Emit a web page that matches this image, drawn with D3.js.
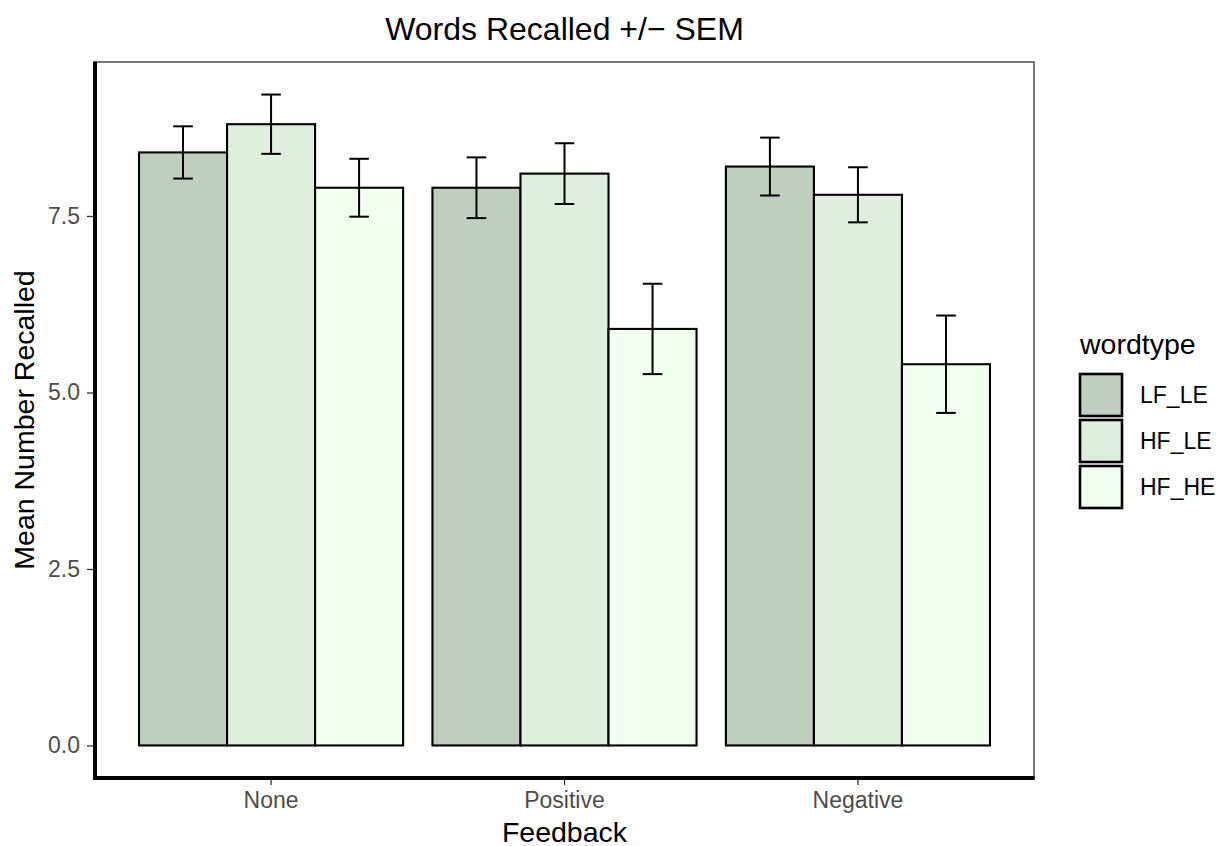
<!DOCTYPE html>
<html>
<head>
<meta charset="utf-8">
<script src="https://cdn.jsdelivr.net/npm/d3@7"></script>
<style>
  body { margin: 0; background: #fff; }
  svg { display: block; font-family: "Liberation Sans", Arial, sans-serif; }
</style>
</head>
<body>
<svg width="1223" height="846"></svg>
<script>
var feedback = ["None", "Positive", "Negative"];
var wordtypes = ["LF_LE", "HF_LE", "HF_HE"];

// mean words recalled, one array per word type (in feedback order)
var meanLF_LE = [8.4, 7.9, 8.2];
var meanHF_LE = [8.8, 8.1, 7.8];
var meanHF_HE = [7.9, 5.9, 5.4];

// standard error of the mean
var semLF_LE = [0.37, 0.43, 0.41];
var semHF_LE = [0.42, 0.43, 0.39];
var semHF_HE = [0.41, 0.64, 0.69];

var fills = ["#C1CDC1", "#E0EEE0", "#F0FFF0"];
var yTicks = [0, 2.5, 5, 7.5];

function chart(){

  var means = [meanLF_LE, meanHF_LE, meanHF_HE],
      sems = [semLF_LE, semHF_LE, semHF_HE];

  var data = [];
  feedback.forEach(function(f, i){
    wordtypes.forEach(function(w, j){
      data.push({feedback: f, wordtype: w, mean: means[j][i], sem: sems[j][i]});
    });
  });

  var pLeft = 95, pRight = 1034, pTop = 62, pBottom = 778;

  var svg = d3.select("svg");

  var x = d3.scaleBand()
      .domain(feedback)
      .range([pLeft, pRight])
      .paddingInner(0.1)
      .paddingOuter(0.15);

  var x1 = d3.scaleBand()
      .domain(wordtypes)
      .range([0, x.bandwidth()]);

  var ymax = d3.max(data, function(d){ return d.mean + d.sem; });
  var pad = ymax * 0.05;
  var y = d3.scaleLinear()
      .domain([-pad, ymax + pad])
      .range([pBottom, pTop]);

  var color = d3.scaleOrdinal().domain(wordtypes).range(fills);

  // panel border (thin)
  svg.append("rect")
      .attr("x", pLeft).attr("y", pTop)
      .attr("width", pRight - pLeft).attr("height", pBottom - pTop)
      .attr("fill", "none")
      .attr("stroke", "#333333")
      .attr("stroke-width", 1.3);

  // bars
  svg.append("g")
    .selectAll("rect")
    .data(data)
    .enter().append("rect")
      .attr("x", function(d){ return x(d.feedback) + x1(d.wordtype); })
      .attr("y", function(d){ return y(d.mean); })
      .attr("width", x1.bandwidth())
      .attr("height", function(d){ return y(0) - y(d.mean); })
      .attr("fill", function(d){ return color(d.wordtype); })
      .attr("stroke", "#000")
      .attr("stroke-width", 2.1);

  // error bars
  var capW = 0.2 / 3 * x.step();
  var eb = svg.append("g")
      .attr("stroke", "#000")
      .attr("stroke-width", 2)
    .selectAll("g")
    .data(data)
    .enter().append("g")
      .attr("transform", function(d){
        return "translate(" + (x(d.feedback) + x1(d.wordtype) + x1.bandwidth() / 2) + ",0)";
      });

  eb.append("line")
      .attr("x1", 0).attr("x2", 0)
      .attr("y1", function(d){ return y(d.mean + d.sem); })
      .attr("y2", function(d){ return y(d.mean - d.sem); });
  eb.append("line")
      .attr("x1", -capW / 2).attr("x2", capW / 2)
      .attr("y1", function(d){ return y(d.mean + d.sem); })
      .attr("y2", function(d){ return y(d.mean + d.sem); });
  eb.append("line")
      .attr("x1", -capW / 2).attr("x2", capW / 2)
      .attr("y1", function(d){ return y(d.mean - d.sem); })
      .attr("y2", function(d){ return y(d.mean - d.sem); });

  // y axis
  var gy = svg.append("g")
      .attr("transform", "translate(" + pLeft + ",0)")
      .call(d3.axisLeft(y).tickValues(yTicks).tickFormat(d3.format(".1f")).tickSize(8).tickPadding(7));
  gy.select(".domain").remove();
  gy.selectAll(".tick line").attr("stroke", "#333333").attr("stroke-width", 1.3);
  gy.selectAll(".tick text")
      .attr("fill", "#4D4D4D")
      .style("font-size", "23px")
      .style("font-family", "Liberation Sans, Arial, sans-serif");

  // x axis
  var gx = svg.append("g")
      .attr("transform", "translate(0," + pBottom + ")")
      .call(d3.axisBottom(x).tickSize(7).tickPadding(7));
  gx.select(".domain").remove();
  gx.selectAll(".tick line").attr("stroke", "#333333").attr("stroke-width", 1.3);
  gx.selectAll(".tick text")
      .attr("fill", "#4D4D4D")
      .style("font-size", "23px")
      .style("font-family", "Liberation Sans, Arial, sans-serif");

  // thick axis lines
  svg.append("line")
      .attr("x1", pLeft).attr("x2", pLeft)
      .attr("y1", pTop - 0.6).attr("y2", pBottom + 2)
      .attr("stroke", "#000").attr("stroke-width", 4);
  svg.append("line")
      .attr("x1", pLeft - 2).attr("x2", pRight + 0.6)
      .attr("y1", pBottom).attr("y2", pBottom)
      .attr("stroke", "#000").attr("stroke-width", 4);

  // titles
  svg.append("text")
      .attr("x", (pLeft + pRight) / 2)
      .attr("y", 39.5)
      .attr("text-anchor", "middle")
      .style("font-size", "32px")
      .text("Words Recalled +/\u2212 SEM");

  svg.append("text")
      .attr("x", (pLeft + pRight) / 2)
      .attr("y", 842)
      .attr("text-anchor", "middle")
      .style("font-size", "28.5px")
      .text("Feedback");

  svg.append("text")
      .attr("transform", "translate(34," + ((pTop + pBottom) / 2) + ") rotate(-90)")
      .attr("text-anchor", "middle")
      .style("font-size", "28.5px")
      .text("Mean Number Recalled");

  // legend
  var legend = svg.append("g").attr("transform", "translate(1079,373)");
  legend.append("text")
      .attr("x", 1)
      .attr("y", -19)
      .style("font-size", "28.5px")
      .text("wordtype");

  var key = legend.selectAll(".key")
    .data(wordtypes)
    .enter().append("g")
      .attr("class", "key")
      .attr("transform", function(d, i){ return "translate(0," + (i * 46) + ")"; });

  key.append("rect")
      .attr("x", 1).attr("y", 1)
      .attr("width", 42).attr("height", 42)
      .attr("fill", function(d){ return color(d); })
      .attr("stroke", "#000")
      .attr("stroke-width", 2.6);

  key.append("text")
      .attr("x", 61)
      .attr("y", 22)
      .attr("dy", "0.36em")
      .style("font-size", "23px")
      .text(function(d){ return d; });
}

chart();
</script>
</body>
</html>
